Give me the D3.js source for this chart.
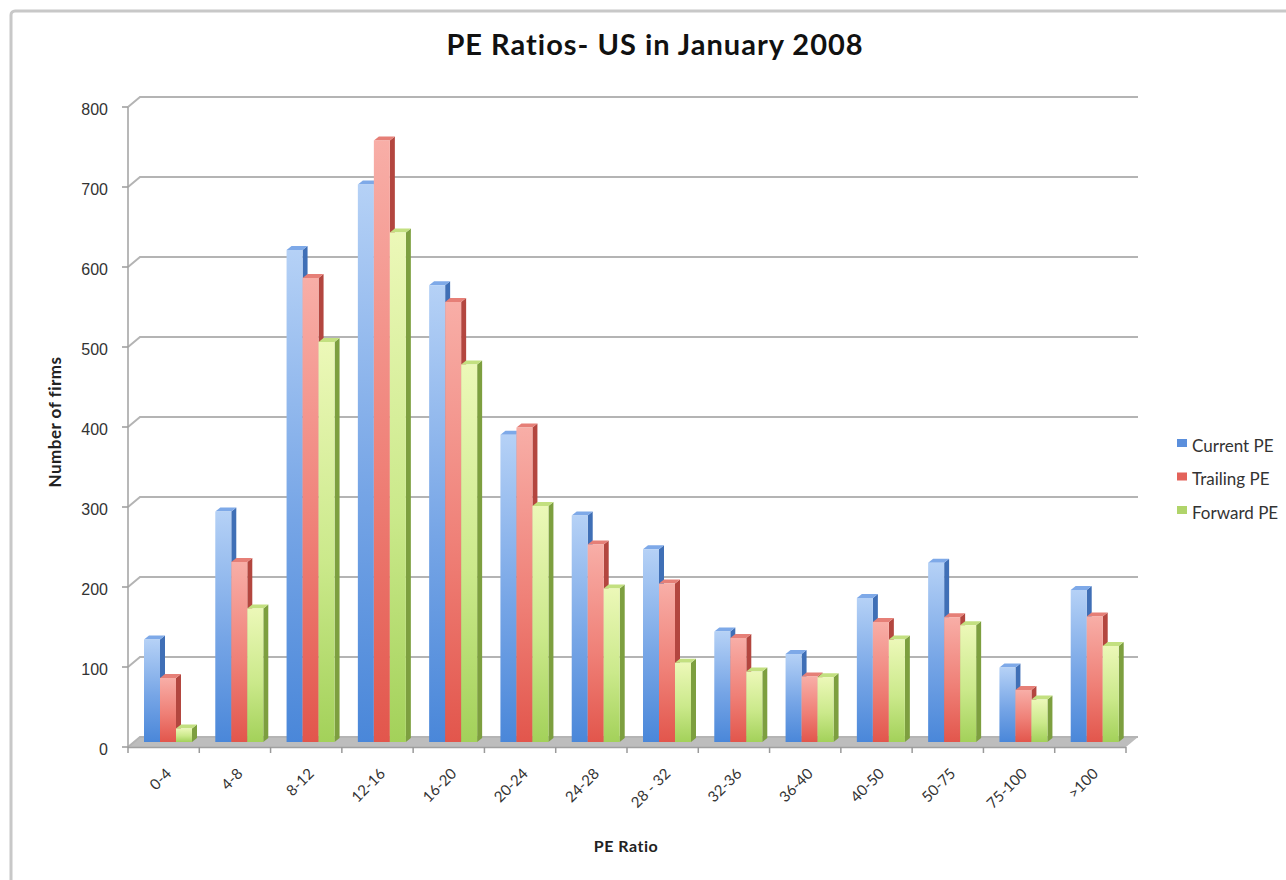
<!DOCTYPE html>
<html>
<head>
<meta charset="utf-8">
<script src="https://cdn.jsdelivr.net/npm/d3@7/dist/d3.min.js"></script>
<style>
 body { margin:0; background:#fff; }
 text { font-family: "Lato", "Liberation Sans", sans-serif; fill:#333; }
</style>
</head>
<body>
<script>

// PE ratio buckets and the three series
var categories = ['0-4','4-8','8-12','12-16','16-20','20-24','24-28','28 - 32','32-36','36-40','40-50','50-75','75-100','>100']
var seriesNames = ['Current PE','Trailing PE','Forward PE']
var currentPE  = [128, 288, 615, 697, 571, 384, 283, 241, 138, 110, 180, 224,  93, 190]
var trailingPE = [ 80, 225, 580, 752, 550, 393, 247, 198, 130,  82, 150, 156,  65, 157]
var forwardPE  = [ 17, 167, 500, 637, 472, 295, 192,  99,  88,  81, 128, 146,  53, 120]
var yTicks = [0,100,200,300,400,500,600,700,800]

var W = 1286, H = 880
// 3d look: back wall is shifted from the front plane
var DX = 12, DY = -10

var svg = d3.select('body').append('svg').attr('width', W).attr('height', H)

// frame
svg.append('rect').attr('x', 11).attr('y', 11).attr('width', 1300).attr('height', 900)
   .attr('rx', 4).attr('fill', '#fff').attr('stroke', '#c8c8c8').attr('stroke-width', 3)

var x = d3.scaleBand().domain(categories).range([128, 1126])
var xs = d3.scaleBand().domain(seriesNames).range([16, 64])
var yFront = d3.scaleLinear().domain([0, 800]).range([747, 107])
var yMid = d3.scaleLinear().domain([0, 800]).range([742, 102])

var colors = {
 'Current PE':  {top:'#b5d1f6', mid:'#76a5e6', bot:'#4a87d9', side:'#3f6fb6', cap:'#7ea9e8', key:'#5b8fdc'},
 'Trailing PE': {top:'#f8aea7', mid:'#ef8077', bot:'#e2564c', side:'#b3463f', cap:'#e67f77', key:'#e3625a'},
 'Forward PE':  {top:'#ecf8b8', mid:'#cbe98b', bot:'#a3d15a', side:'#7d9f3f', cap:'#c3e080', key:'#b0d46a'}
}

var defs = svg.append('defs')
seriesNames.forEach(function(s, i) {
  var g = defs.append('linearGradient').attr('id', 'grad' + i)
    .attr('x1', 0).attr('y1', 0).attr('x2', 0).attr('y2', 1)
  g.append('stop').attr('offset', '0%').attr('stop-color', colors[s].top)
  g.append('stop').attr('offset', '55%').attr('stop-color', colors[s].mid)
  g.append('stop').attr('offset', '100%').attr('stop-color', colors[s].bot)
})

// floor
var x0 = 128, x1 = 1126
svg.append('path')
  .attr('d', 'M' + x0 + ',747L' + x1 + ',747L' + (x1 + DX) + ',' + (747 + DY) + 'L' + (x0 + DX) + ',' + (747 + DY) + 'Z')
  .attr('fill', '#bdbdbd')

// gridlines on back wall + slanted connectors
var grid = svg.append('g')
yTicks.forEach(function(t) {
  var yf = yFront(t)
  grid.append('path')
    .attr('d', 'M' + x0 + ',' + yf + 'L' + (x0 + DX) + ',' + (yf + DY) + 'L' + (x1 + DX) + ',' + (yf + DY))
    .attr('fill', 'none').attr('stroke', '#b4b4b4').attr('stroke-width', 2)
  grid.append('line').attr('x1', x0 - 6).attr('x2', x0).attr('y1', yf).attr('y2', yf)
    .attr('stroke', '#9a9a9a').attr('stroke-width', 1.5)
  grid.append('text').attr('x', x0 - 20).attr('y', yf + 2).attr('dy', '0.35em')
    .attr('text-anchor', 'end').style('font-family', 'Liberation Sans, sans-serif')
    .style('font-size', '16px').text(t)
})

// front axis line
svg.append('line').attr('x1', x0).attr('x2', x0).attr('y1', yFront(800)).attr('y2', 747)
  .attr('stroke', '#a0a0a0').attr('stroke-width', 1.5)
svg.append('line').attr('x1', x0).attr('x2', x1).attr('y1', 747.5).attr('y2', 747.5)
  .attr('stroke', '#a0a0a0').attr('stroke-width', 1.5)
categories.concat(['end']).forEach(function(c, i) {
  var xx = x0 + i * x.bandwidth()
  svg.append('line').attr('x1', xx).attr('x2', xx).attr('y1', 747).attr('y2', 753)
    .attr('stroke', '#9a9a9a').attr('stroke-width', 1.5)
})

// bars
var data = [currentPE, trailingPE, forwardPE]
var BW = 16, SD = 5, SU = 4
seriesNames.forEach(function(s, si) {
  var g = svg.append('g')
  categories.forEach(function(c, ci) {
    var v = data[si][ci]
    var bx = x(c) + xs(s), by = yMid(v), base = yMid(0)
    // side
    g.append('path')
      .attr('d', 'M' + (bx + BW) + ',' + by + 'L' + (bx + BW + SD) + ',' + (by - SU) + 'L' + (bx + BW + SD) + ',' + (base - SU) + 'L' + (bx + BW) + ',' + base + 'Z')
      .attr('fill', colors[s].side)
    // cap
    g.append('path')
      .attr('d', 'M' + bx + ',' + by + 'L' + (bx + SD) + ',' + (by - SU) + 'L' + (bx + BW + SD) + ',' + (by - SU) + 'L' + (bx + BW) + ',' + by + 'Z')
      .attr('fill', colors[s].cap)
    // front
    g.append('rect').attr('x', bx).attr('y', by).attr('width', BW).attr('height', base - by)
      .attr('fill', 'url(#grad' + si + ')')
  })
})

// category labels
categories.forEach(function(c) {
  var cx = x(c) + x.bandwidth() / 2 + 5
  svg.append('text').attr('transform', 'translate(' + cx + ',771) rotate(-45)')
    .attr('text-anchor', 'end').attr('dy', '0.35em')
    .style('font-size', '15px').text(c)
})

// titles
svg.append('text').attr('x', 655).attr('y', 55).attr('text-anchor', 'middle')
  .style('font-size', '29px').style('font-weight', 'bold').style('letter-spacing', '1px').style('fill', '#111')
  .text('PE Ratios- US in January 2008')
svg.append('text').attr('x', 626).attr('y', 852).attr('text-anchor', 'middle')
  .style('font-size', '16px').style('font-weight', 'bold').style('letter-spacing', '0.5px').style('fill', '#222').text('PE Ratio')
svg.append('text').attr('transform', 'translate(61,422) rotate(-90)').attr('text-anchor', 'middle')
  .style('font-size', '17px').style('font-weight', 'bold').style('letter-spacing', '0.5px').style('fill', '#222').text('Number of firms')

// legend
var leg = svg.append('g')
seriesNames.forEach(function(s, i) {
  var ly = 446 + i * 33.5
  leg.append('rect').attr('x', 1177).attr('y', ly - 7).attr('width', 10).attr('height', 8).attr('fill', colors[s].key)
  leg.append('text').attr('x', 1192).attr('y', ly).attr('dy', '0.35em')
    .style('font-size', '17px').text(s)
})
</script>
</body>
</html>
